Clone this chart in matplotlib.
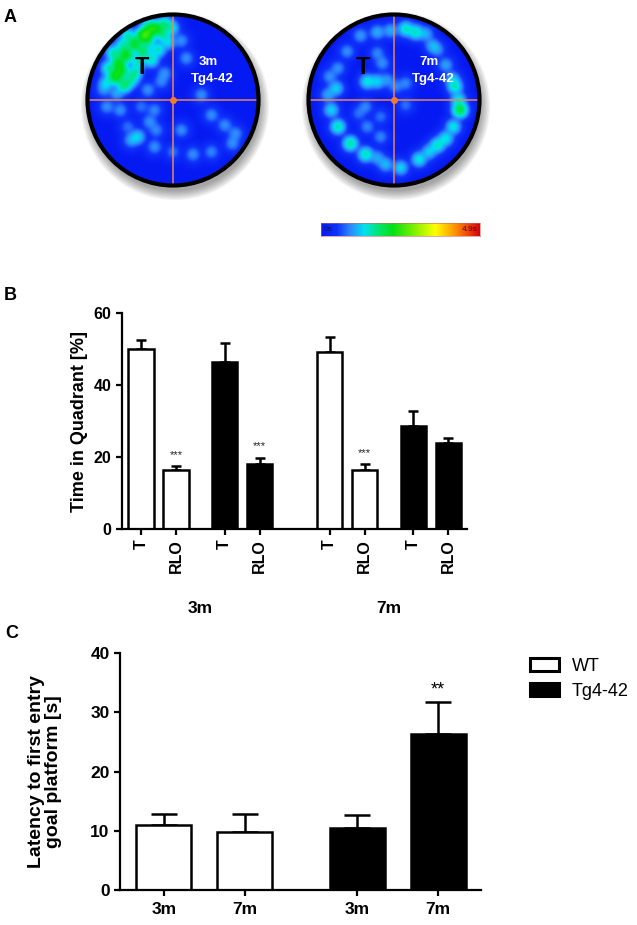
"""Water maze probe trial: occupancy heatmaps, quadrant time and goal latency."""

import numpy as np
import matplotlib

matplotlib.use("Agg")
import matplotlib.pyplot as plt
from matplotlib.colors import LinearSegmentedColormap
from matplotlib.patches import Circle, Patch

plt.rcParams["font.family"] = ["Liberation Sans", "DejaVu Sans"]

# --- panel A: dwell spots (arena coords, -1..1) and relative dwell time
spots_3m = [
    (-0.20, 0.85, 0.42), (-0.36, 0.77, 0.44), (-0.46, 0.67, 0.42), (-0.56, 0.54, 0.44),
    (-0.65, 0.44, 0.42), (-0.69, 0.28, 0.44), (-0.58, 0.18, 0.36), (-0.10, 0.91, 0.32),
    (-0.02, 0.86, 0.28), (-0.71, 0.56, 0.32), (-0.77, 0.38, 0.30), (-0.54, 0.77, 0.30),
    (-0.26, 0.48, 0.30), (-0.18, 0.60, 0.30), (-0.06, 0.69, 0.26), (-0.46, 0.32, 0.32),
    (-0.36, 0.58, 0.36), (-0.30, 0.70, 0.32), (-0.42, 0.45, 0.30), (-0.60, 0.65, 0.30),
    (-0.80, 0.20, 0.26), (-0.50, 0.24, 0.28), (-0.12, 0.78, 0.30), (-0.28, 0.88, 0.34),
    (-0.62, 0.35, 0.40), (-0.30, 0.80, 0.40),
    (0.10, 0.71, 0.19), (0.16, 0.50, 0.19), (-0.10, 0.32, 0.19), (-0.30, 0.12, 0.19),
    (-0.14, 0.22, 0.18), (-0.79, -0.08, 0.19), (-0.63, -0.12, 0.19), (-0.38, -0.08, 0.16),
    (-0.22, -0.12, 0.18), (-0.28, -0.26, 0.19), (-0.20, -0.36, 0.18), (-0.54, -0.32, 0.16),
    (-0.42, -0.44, 0.25), (-0.50, -0.48, 0.21), (-0.22, -0.56, 0.19), (0.00, -0.62, 0.16),
    (0.10, -0.36, 0.19), (0.34, 0.06, 0.19), (0.46, -0.18, 0.19), (0.62, -0.30, 0.19),
    (0.75, -0.40, 0.19), (0.71, -0.52, 0.19), (0.46, -0.62, 0.18), (0.24, -0.65, 0.19),
    (-0.67, 0.08, 0.21), (-0.83, 0.12, 0.18),
]
spots_7m = [
    (-0.40, 0.77, 0.20), (-0.20, 0.81, 0.22), (-0.04, 0.83, 0.22), (0.14, 0.85, 0.30),
    (0.26, 0.81, 0.30), (0.38, 0.79, 0.22), (0.46, 0.65, 0.22), (0.52, 0.60, 0.19),
    (0.62, 0.42, 0.21), (0.70, 0.25, 0.24), (0.73, 0.16, 0.30), (0.77, 0.00, 0.28),
    (0.79, -0.12, 0.40), (0.71, -0.32, 0.28), (0.62, -0.46, 0.28), (0.52, -0.54, 0.30),
    (0.42, -0.62, 0.25), (0.30, -0.71, 0.28), (0.08, -0.81, 0.26), (-0.10, -0.77, 0.23),
    (-0.20, -0.69, 0.21), (-0.34, -0.65, 0.31), (-0.52, -0.52, 0.33), (-0.67, -0.32, 0.31),
    (-0.75, -0.12, 0.26), (-0.79, 0.06, 0.21), (-0.69, 0.14, 0.25), (-0.77, 0.28, 0.19),
    (-0.67, 0.38, 0.19), (-0.56, 0.58, 0.19), (-0.20, 0.56, 0.18), (-0.14, 0.44, 0.19),
    (-0.20, 0.22, 0.25), (-0.32, 0.22, 0.28), (-0.08, 0.24, 0.19), (0.02, 0.16, 0.18),
    (0.14, 0.20, 0.18), (-0.34, -0.08, 0.18), (-0.42, -0.16, 0.16), (-0.32, -0.32, 0.18),
    (-0.16, -0.44, 0.18), (-0.16, -0.20, 0.16), (0.14, -0.06, 0.16),
]
heat_ages = ["3m", "7m"]
heat_group = "Tg4-42"
scale_min, scale_max = "0s", "4.9s"

# --- panel B: time in quadrant [%]
b_ages = ["3m", "7m"]
b_genotypes = ["WT", "Tg4-42"]
b_quadrants = ["T", "RLO"]
b_mean = [50.0, 16.5, 46.3, 18.0, 49.2, 16.5, 28.7, 23.9]
b_sem = [2.4, 0.9, 5.4, 1.7, 4.2, 1.5, 4.0, 1.3]
b_stars = ["", "***", "", "***", "", "***", "", ""]

# --- panel C: latency to first entry of goal platform [s]
c_genotypes = ["WT", "Tg4-42"]
c_ages = ["3m", "7m"]
c_mean = [11.0, 9.8, 10.4, 26.3]
c_sem = [1.9, 3.0, 2.2, 5.4]
c_stars = ["", "", "", "**"]

W, H = 637, 925
fig = plt.figure(figsize=(W / 100, H / 100), dpi=100)

heat_cmap = LinearSegmentedColormap.from_list(
    "maze",
    [
        (0.00, (0.02, 0.10, 0.95)),
        (0.10, (0.06, 0.20, 0.98)),
        (0.18, (0.18, 0.52, 1.00)),
        (0.27, (0.00, 0.88, 0.95)),
        (0.36, (0.00, 0.90, 0.45)),
        (0.45, (0.00, 0.88, 0.08)),
        (0.60, (0.55, 0.95, 0.00)),
        (0.72, (1.00, 1.00, 0.00)),
        (0.85, (1.00, 0.55, 0.00)),
        (1.00, (0.85, 0.00, 0.05)),
    ],
)


def px_axes(cx, cy, w, h):
    return fig.add_axes([(cx - w / 2) / W, 1 - (cy + h / 2) / H, w / W, h / H])


def density(spots, n=240, sigma=0.082, p=2.6):
    # soft-max (p-norm) of gaussian spots: neighbours merge without piling up
    g = np.linspace(-1, 1, n)
    xx, yy = np.meshgrid(g, g)
    z = np.zeros_like(xx)
    for u, v, w in spots:
        blob = w * np.exp(-((xx - u) ** 2 + (yy - v) ** 2) / (2 * sigma**2))
        z += blob**p
    return np.clip(z ** (1 / p), 0, 1)


def arena(ax, spots, age):
    r = 84
    ax.set_xlim(-100, 100)
    ax.set_ylim(-100, 100)
    ax.axis("off")
    for k in range(8):
        ax.add_patch(Circle((2, -6), r + 1 + k * 1.3, color="k", alpha=0.05, lw=0, zorder=0.5))
    img = ax.imshow(density(spots), cmap=heat_cmap, vmin=0, vmax=1, origin="lower",
                    extent=(-r, r, -r, r), interpolation="bilinear", zorder=2)
    clip = Circle((0, 0), r, transform=ax.transData)
    img.set_clip_path(clip)
    ax.plot([-r, r], [0, 0], color="#e8875a", lw=1.1, zorder=3)
    ax.plot([0, 0], [-r, r], color="#e8875a", lw=1.1, zorder=3)
    ax.plot(0, 0, "o", color="#f07a30", ms=4, zorder=3)
    ax.add_patch(Circle((0, 0), r + 1.5, fill=False, ec="k", lw=3, zorder=4))
    ax.text(-31, 32, "T", fontsize=17, fontweight="bold", color="k", ha="center", va="center", zorder=5)
    ax.text(35, 38, age, fontsize=9.5, fontweight="bold", color="white", ha="center", va="center", zorder=5)
    ax.text(39, 21, heat_group, fontsize=9.5, fontweight="bold", color="white", ha="center", va="center", zorder=5)


arena(px_axes(173, 100, 200, 200), spots_3m, heat_ages[0])
arena(px_axes(394, 100, 200, 200), spots_7m, heat_ages[1])

cax = fig.add_axes([321 / W, 1 - 236 / H, 159 / W, 13 / H])
cax.imshow(np.linspace(0, 1, 256)[None, :], cmap=heat_cmap, aspect="auto", extent=(0, 1, 0, 1))
cax.set_xticks([])
cax.set_yticks([])
for s in cax.spines.values():
    s.set_linewidth(0.4)
    s.set_color("#cc6666")
cax.text(0.015, 0.5, scale_min, fontsize=6, color="#101060", ha="left", va="center", transform=cax.transAxes)
cax.text(0.985, 0.5, scale_max, fontsize=6, color="#600000", ha="right", va="center", transform=cax.transAxes)


def style_axes(ax, size):
    for side in ("top", "right"):
        ax.spines[side].set_visible(False)
    for side in ("left", "bottom"):
        ax.spines[side].set_linewidth(1.6)
    ax.tick_params(width=1.6, length=4, direction="out", labelsize=size)
    for lab in ax.get_yticklabels() + ax.get_xticklabels():
        lab.set_fontweight("bold")


# --- panel B
ax_b = fig.add_axes([122 / W, 1 - 529 / H, 345 / W, 216 / H])
xb = []
b_colors = []
for ai in range(len(b_ages)):
    for gi in range(len(b_genotypes)):
        for qi in range(len(b_quadrants)):
            xb.append(ai * 5.39 + gi * 2.39 + qi)
            b_colors.append("white" if gi == 0 else "black")
ax_b.errorbar(xb, b_mean, yerr=[np.zeros(len(b_sem)), b_sem], fmt="none", ecolor="k",
              elinewidth=1.8, capsize=3.4, capthick=1.8, zorder=1)
ax_b.bar(xb, b_mean, width=0.72, color=b_colors, edgecolor="k", linewidth=1.8, zorder=2)
for x, m, e, s in zip(xb, b_mean, b_sem, b_stars):
    if s:
        ax_b.text(x, m + e + 3.2, s, fontsize=8, ha="center", va="center", color="#222222")
ax_b.set_xlim(-0.54, 9.31)
ax_b.set_ylim(0, 60)
ax_b.set_yticks([0, 20, 40, 60])
ax_b.set_xticks(xb)
ax_b.set_xticklabels(b_quadrants * 4, rotation=90)
ax_b.set_ylabel("Time in Quadrant [%]", fontsize=13, fontweight="bold", labelpad=4)
style_axes(ax_b, 11.5)
for ai, age in enumerate(b_ages):
    xc = np.mean(xb[ai * 4:(ai + 1) * 4])
    ax_b.text(xc, -0.37, age, fontsize=12.5, fontweight="bold", ha="center", va="center",
              transform=ax_b.get_xaxis_transform())

# --- panel C
ax_c = fig.add_axes([120 / W, 1 - 890 / H, 361 / W, 237 / H])
xc_pos = []
c_colors = []
for gi in range(len(c_genotypes)):
    for ai in range(len(c_ages)):
        xc_pos.append(gi * 2.39 + ai)
        c_colors.append("white" if gi == 0 else "black")
ax_c.errorbar(xc_pos, c_mean, yerr=[np.zeros(len(c_sem)), c_sem], fmt="none", ecolor="k",
              elinewidth=1.8, capsize=9.5, capthick=1.8, zorder=1)
ax_c.bar(xc_pos, c_mean, width=0.68, color=c_colors, edgecolor="k", linewidth=1.8, zorder=2)
for x, m, e, s in zip(xc_pos, c_mean, c_sem, c_stars):
    if s:
        ax_c.text(x, m + e + 2.0, s, fontsize=13, ha="center", va="center")
ax_c.set_xlim(-0.54, 3.92)
ax_c.set_ylim(0, 40)
ax_c.set_yticks([0, 10, 20, 30, 40])
ax_c.set_xticks(xc_pos)
ax_c.set_xticklabels(c_ages * 2)
ax_c.set_ylabel("Latency to first entry\ngoal platform [s]", fontsize=14, fontweight="bold",
                labelpad=20, linespacing=1.0)
style_axes(ax_c, 12.5)
ax_c.tick_params(axis="x", pad=5)

handles = [Patch(facecolor="white", edgecolor="k", linewidth=2.2),
           Patch(facecolor="black", edgecolor="k", linewidth=2.2)]
fig.legend(handles, c_genotypes, loc="upper left", bbox_to_anchor=(530 / W, 1 - 658 / H),
           frameon=False, fontsize=13, handlelength=1.6, handleheight=0.7,
           handletextpad=0.7, labelspacing=0.45, borderpad=0, borderaxespad=0)

for label, (x, y) in zip("ABC", [(10, 18), (10, 295), (12, 633)]):
    fig.text(x / W, 1 - y / H, label, fontsize=13, fontweight="bold", ha="center", va="center")

fig.savefig("out.png", dpi=100)
